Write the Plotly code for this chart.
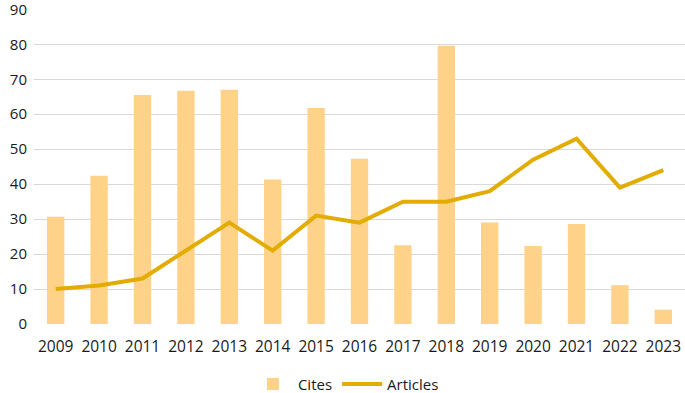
import plotly.graph_objects as go

years = ["2009", "2010", "2011", "2012", "2013", "2014", "2015", "2016",
         "2017", "2018", "2019", "2020", "2021", "2022", "2023"]
cites = [30.7, 42.4, 65.5, 66.7, 67.0, 41.3, 61.8, 47.3, 22.5, 79.6, 29.0, 22.3, 28.6, 11.1, 4.1]
articles = [10, 11, 13, 21, 29, 21, 31, 29, 35, 35, 38, 47, 53, 39, 44]
y_ticks = [0, 10, 20, 30, 40, 50, 60, 70, 80, 90]

fig = go.Figure()
fig.add_trace(go.Bar(x=years, y=cites, name="Cites", marker_color="#FFD28A",
                     marker_line_width=0))
fig.add_trace(go.Scatter(x=years, y=articles, name="Articles", mode="lines",
                         line=dict(color="#E2AC00", width=4)))

fig.update_layout(
    width=685, height=393,
    margin=dict(l=34, r=0, t=9, b=69, autoexpand=False),
    paper_bgcolor="white", plot_bgcolor="white",
    bargap=0.6,
    font=dict(family="Open Sans, sans-serif", size=15, color="#1a1a1a"),
    showlegend=True,
    legend=dict(orientation="h", x=0.505, xanchor="center", y=0.022, yanchor="middle",
                yref="container", xref="container", font=dict(size=15),
                itemwidth=40),
)
fig.update_xaxes(showgrid=False, showline=False, ticks="", tickfont=dict(size=15.5),
                 automargin=False, ticklabeloverflow="allow", ticklabelstandoff=11)
fig.update_yaxes(range=[0, 90.1], tickvals=y_ticks, gridcolor="#D9D9D9", gridwidth=1,
                 zeroline=False, showline=False, ticks="", tickfont=dict(size=15),
                 automargin=False, ticklabeloverflow="allow", ticklabelstandoff=6)

fig.write_html("out.html", config={"displayModeBar": False},
               post_script="document.body.style.margin='0';document.body.style.padding='0';")
